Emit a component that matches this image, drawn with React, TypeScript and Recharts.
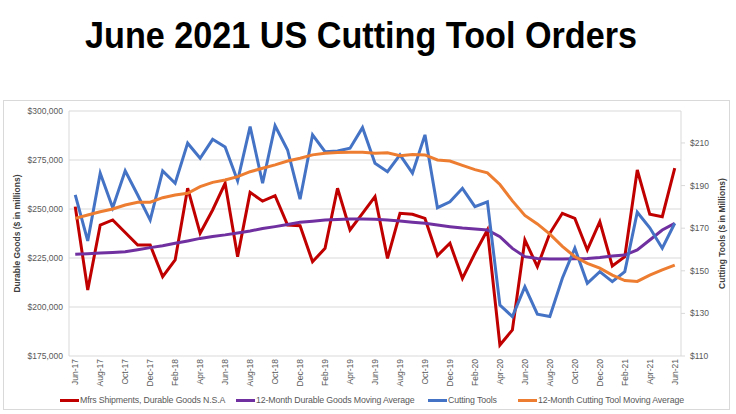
import React from 'react';
import { ComposedChart, Line, XAxis, YAxis, CartesianGrid, Legend } from 'recharts';

const months = [
  'Jun-17', 'Jul-17', 'Aug-17', 'Sep-17', 'Oct-17', 'Nov-17', 'Dec-17',
  'Jan-18', 'Feb-18', 'Mar-18', 'Apr-18', 'May-18', 'Jun-18', 'Jul-18', 'Aug-18', 'Sep-18', 'Oct-18', 'Nov-18', 'Dec-18',
  'Jan-19', 'Feb-19', 'Mar-19', 'Apr-19', 'May-19', 'Jun-19', 'Jul-19', 'Aug-19', 'Sep-19', 'Oct-19', 'Nov-19', 'Dec-19',
  'Jan-20', 'Feb-20', 'Mar-20', 'Apr-20', 'May-20', 'Jun-20', 'Jul-20', 'Aug-20', 'Sep-20', 'Oct-20', 'Nov-20', 'Dec-20',
  'Jan-21', 'Feb-21', 'Mar-21', 'Apr-21', 'May-21', 'Jun-21',
];

// Mfrs shipments, durable goods ($ millions, left axis)
const durableGoods = [
  251200, 208700, 241800, 244400, 238000, 231600, 231600, 215500, 224000, 260600, 237600, 249500,
  263100, 225700, 258500, 254000, 256800, 241800, 241500, 223100, 229900, 260600, 239300, 247800,
  256300, 224800, 247800, 247300, 245200, 226200, 232500, 214600, 227400, 239300, 180600, 188300,
  234200, 220600, 237600, 247800, 245200, 229100, 243500, 220900, 225700, 269900, 247300, 246100,
  270800,
];

const durableGoodsAvg = [
  226900, 227200, 227500, 227800, 228200, 229200, 230300, 231300, 232500, 233700, 235000, 236000,
  236800, 237800, 238800, 240000, 241000, 242100, 243200, 243800, 244400, 244700, 244900, 244900,
  244800, 244400, 243900, 243300, 242700, 241800, 241000, 240300, 239800, 239300, 235900, 229900,
  225700, 224800, 224500, 224500, 224600, 224800, 225200, 226000, 226500, 229100, 234200, 239300,
  242700,
];

// Cutting tool orders ($ millions, right axis)
const cuttingTools = [
  185.6, 164.0, 195.8, 179.6, 196.9, 185.6, 173.8, 196.9, 191.1, 209.9, 202.8, 211.7,
  208.1, 192.2, 217.7, 191.1, 218.1, 206.7, 183.6, 213.8, 205.9, 206.2, 207.5, 217.2,
  200.5, 196.5, 204.4, 195.8, 213.8, 179.6, 182.4, 188.7, 180.1, 182.4, 133.9, 128.5,
  142.5, 129.6, 128.5, 146.5, 160.6, 144.1, 149.6, 144.9, 149.6, 177.5, 170.2, 160.6,
  172.3,
];

const cuttingToolsAvg = [
  174.6, 176.2, 177.7, 179.0, 180.9, 182.2, 182.2, 184.3, 185.6, 186.4, 189.5, 191.5,
  192.6, 194.2, 196.5, 198.1, 199.7, 201.5, 202.8, 204.4, 205.2, 205.5, 205.6, 205.6,
  205.2, 205.4, 204.0, 204.6, 204.4, 202.0, 201.5, 199.5, 197.5, 196.0, 190.5, 182.8,
  176.0, 172.0, 167.2, 161.5, 156.6, 153.5, 151.2, 148.0, 145.4, 145.0, 148.0, 150.4,
  152.7,
];

const leftTicks = [175000, 200000, 225000, 250000, 275000, 300000];
const rightTicks = [110, 130, 150, 170, 190, 210];

const seriesNames = [
  'Mfrs Shipments, Durable Goods N.S.A',
  '12-Month Durable Goods Moving Average',
  'Cutting Tools',
  '12-Month Cutting Tool Moving Average',
];

const data = months.map((m, i) => ({
  month: m,
  durable: durableGoods[i],
  durableAvg: durableGoodsAvg[i],
  tools: cuttingTools[i],
  toolsAvg: cuttingToolsAvg[i],
}));

const FONT = "'Liberation Sans', Arial, sans-serif";
const TEXT = '#595959';

const MonthTick = (props: any) => {
  const { x, y, payload } = props;
  return (
    <text
      x={x}
      y={y}
      transform={`rotate(-90, ${x}, ${y})`}
      textAnchor="end"
      dy="0.33em"
      fontSize={8.5}
      fontFamily={FONT}
      fill={TEXT}
    >
      {payload.value}
    </text>
  );
};

const axisTitle = (text: string, dx: number) => (props: any) => {
  const { viewBox } = props;
  const cx = viewBox.x + dx;
  const cy = viewBox.y + viewBox.height / 2;
  return (
    <text
      x={cx}
      y={cy}
      transform={`rotate(-90, ${cx}, ${cy})`}
      textAnchor="middle"
      dominantBaseline="central"
      fontSize={8.5}
      fontWeight="bold"
      fontFamily={FONT}
      fill="#404040"
    >
      {text}
    </text>
  );
};

// where each legend entry starts (line sample, then text)
const legendLeft = [56, 232, 424, 514];

const renderLegend = (props: any) => {
  const items = [...props.payload].sort(
    (a: any, b: any) => seriesNames.indexOf(a.value) - seriesNames.indexOf(b.value)
  );
  return (
    <div style={{ position: 'relative', width: 725, height: 16 }}>
      {items.map((entry: any, i: number) => (
        <div
          key={entry.value}
          style={{
            position: 'absolute',
            left: legendLeft[i],
            top: 0,
            height: 16,
            display: 'flex',
            alignItems: 'center',
            whiteSpace: 'nowrap',
          }}
        >
          <span style={{ display: 'inline-block', width: 19, height: 3, background: entry.color }} />
          <span style={{ fontSize: 8.8, letterSpacing: -0.15, fontFamily: FONT, color: TEXT, marginLeft: 1 }}>
            {entry.value}
          </span>
        </div>
      ))}
    </div>
  );
};

export default function App() {
  return (
    <div style={{ position: 'absolute', left: 0, top: 0, width: 736, height: 414, background: '#fff' }}>
      <svg width={736} height={70} style={{ position: 'absolute', left: 0, top: 0 }}>
        <text
          x={361}
          y={48}
          textAnchor="middle"
          fontSize={36}
          fontWeight="bold"
          fontFamily={FONT}
          textLength={552}
          lengthAdjust="spacingAndGlyphs"
          fill="#000"
        >
          June 2021 US Cutting Tool Orders
        </text>
      </svg>
      <div
        style={{
          position: 'absolute',
          left: 3,
          top: 100,
          width: 727,
          height: 310,
          border: '1px solid #d9d9d9',
          boxSizing: 'border-box',
        }}
      >
        <ComposedChart width={725} height={308} data={data} margin={{ top: 10, right: 4, bottom: 1, left: 5 }}>
          <CartesianGrid yAxisId="left" vertical={false} stroke="#d9d9d9" />
          <XAxis
            dataKey="month"
            scale="band"
            interval={1}
            height={36}
            axisLine={false}
            tickLine={false}
            tickSize={1}
            tick={<MonthTick />}
          />
          <YAxis
            yAxisId="left"
            width={60}
            domain={[175000, 300000]}
            ticks={leftTicks}
            tickFormatter={(v: number) => `$${v.toLocaleString('en-US')}`}
            axisLine={{ stroke: '#d9d9d9' }}
            tickLine={false}
            tickSize={4}
            tick={{ fontSize: 8.5, fontFamily: FONT, fill: TEXT }}
            label={{ content: axisTitle('Durable Goods ($ in millions)', 8) }}
          />
          <YAxis
            yAxisId="right"
            orientation="right"
            width={44}
            domain={[110, 225]}
            ticks={rightTicks}
            tickFormatter={(v: number) => `$${v}`}
            axisLine={{ stroke: '#d9d9d9' }}
            tickLine={{ stroke: '#d9d9d9' }}
            tickSize={4}
            tickMargin={5}
            tick={{ fontSize: 8.5, fontFamily: FONT, fill: TEXT }}
            label={{ content: axisTitle('Cutting Tools ($ in Millions)', 41) }}
          />
          <Legend content={renderLegend} wrapperStyle={{ left: 0, top: 291, width: 725, height: 16 }} />
          <Line yAxisId="left" dataKey="durable" name={seriesNames[0]} stroke="#C00000" strokeWidth={3} dot={false} isAnimationActive={false} />
          <Line yAxisId="left" dataKey="durableAvg" name={seriesNames[1]} stroke="#7030A0" strokeWidth={3} dot={false} isAnimationActive={false} />
          <Line yAxisId="right" dataKey="tools" name={seriesNames[2]} stroke="#4472C4" strokeWidth={3} dot={false} isAnimationActive={false} />
          <Line yAxisId="right" dataKey="toolsAvg" name={seriesNames[3]} stroke="#ED7D31" strokeWidth={3} dot={false} isAnimationActive={false} />
        </ComposedChart>
      </div>
    </div>
  );
}
